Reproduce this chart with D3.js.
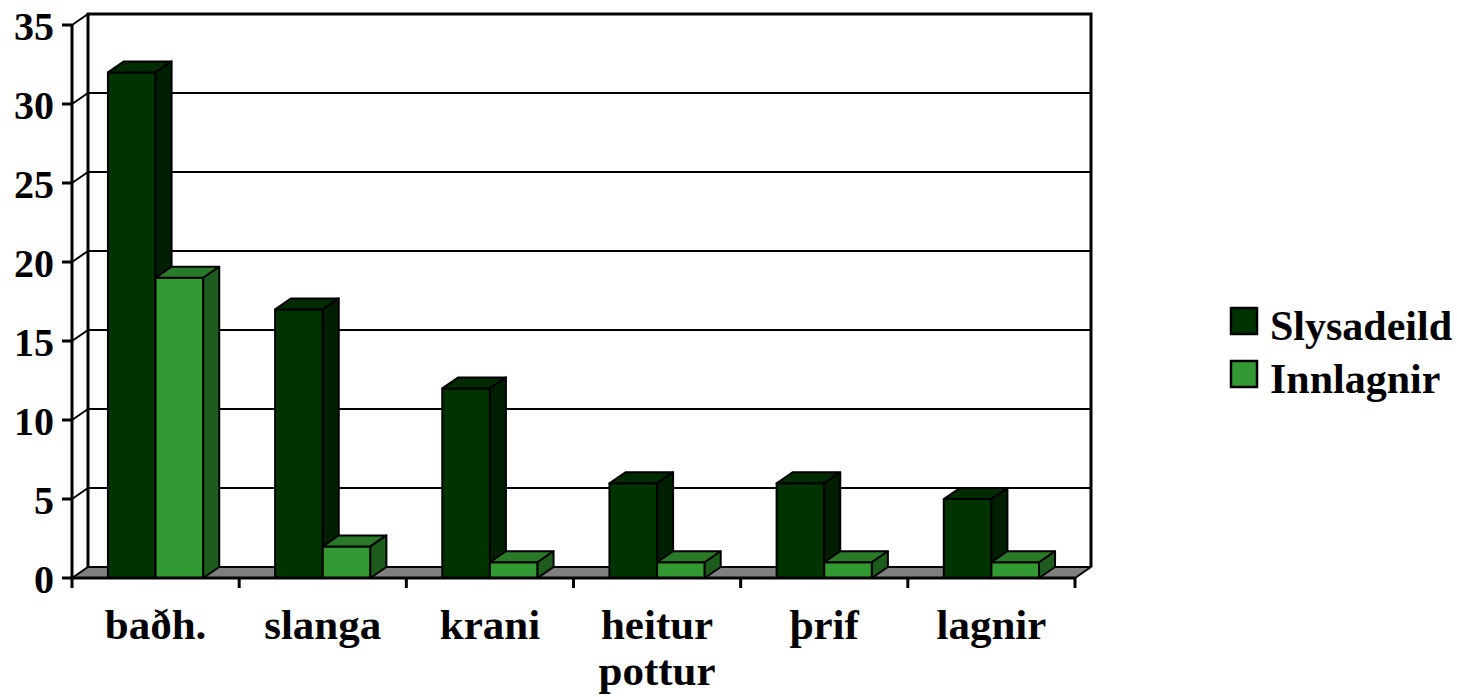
<!DOCTYPE html>
<html>
<head>
<meta charset="utf-8">
<script src="https://cdn.jsdelivr.net/npm/d3@7"></script>
<style>
  body { margin: 0; background: #fff; }
  text { font-family: "Liberation Serif", "Times New Roman", serif; font-weight: bold; fill: #000; }
</style>
</head>
<body>
<svg id="chart" width="1457" height="697"></svg>
<script>
const categories = ["baðh.", "slanga", "krani", "heitur pottur", "þrif", "lagnir"];
const seriesNames = ["Slysadeild", "Innlagnir"];
const slysadeild = [32, 17, 12, 6, 6, 5];
const innlagnir = [19, 2, 1, 1, 1, 1];
const yTicks = [0, 5, 10, 15, 20, 25, 30, 35];

const colors = {
  Slysadeild: { front: "#003300", top: "#002a00", side: "#001f00" },
  Innlagnir: { front: "#339933", top: "#2a7a2a", side: "#1e5c1e" }
};

const svg = d3.select("#chart");
const dx = 16, dy = -11; // 3d depth offset
const x0 = d3.scaleBand().domain(categories).range([72, 1075]);
const x1 = d3.scaleBand().domain(seriesNames)
  .range([x0.bandwidth() * 0.215, x0.bandwidth() * 0.785]);
const y = d3.scaleLinear().domain([0, 35]).range([578, 25]);

const left = x0.range()[0], right = x0.range()[1];

// back wall gridlines
svg.append("g").selectAll("line").data(yTicks.slice(1, -1)).join("line")
  .attr("x1", left + dx).attr("x2", right + dx)
  .attr("y1", d => y(d) + dy).attr("y2", d => y(d) + dy)
  .attr("stroke", "#000").attr("stroke-width", 2);

// left wall diagonals
svg.append("g").selectAll("line").data(yTicks.slice(1)).join("line")
  .attr("x1", left).attr("x2", left + dx)
  .attr("y1", d => y(d)).attr("y2", d => y(d) + dy)
  .attr("stroke", "#000").attr("stroke-width", 2);

// back wall frame
svg.append("path")
  .attr("d", `M${left + dx},${y(0) + dy} V${y(35) + dy} H${right + dx} V${y(0) + dy}`)
  .attr("fill", "none").attr("stroke", "#000").attr("stroke-width", 3);

// floor
svg.append("path")
  .attr("d", `M${left},${y(0)} L${left + dx},${y(0) + dy} L${right + dx},${y(0) + dy} L${right},${y(0)} Z`)
  .attr("fill", "#808080").attr("stroke", "#000").attr("stroke-width", 2).attr("stroke-linejoin", "round");

// bars
const rows = [];
categories.forEach((c, i) => {
  rows.push({ cat: c, s: "Slysadeild", v: slysadeild[i] });
  rows.push({ cat: c, s: "Innlagnir", v: innlagnir[i] });
});
const bars = svg.append("g").selectAll("g").data(rows).join("g")
  .attr("stroke", "#000").attr("stroke-width", 2).attr("stroke-linejoin", "round");
bars.each(function(d) {
  const g = d3.select(this);
  const xa = x0(d.cat) + x1(d.s), xb = xa + x1.bandwidth();
  const yt = y(d.v), yb = y(0);
  g.append("path").attr("fill", colors[d.s].front)
    .attr("d", `M${xa},${yb} V${yt} H${xb} V${yb} Z`);
  g.append("path").attr("fill", colors[d.s].top)
    .attr("d", `M${xa},${yt} L${xa + dx},${yt + dy} H${xb + dx} L${xb},${yt} Z`);
  g.append("path").attr("fill", colors[d.s].side)
    .attr("d", `M${xb},${yt} L${xb + dx},${yt + dy} V${yb + dy} L${xb},${yb} Z`);
});

// front axis lines
svg.append("line").attr("x1", left).attr("x2", left).attr("y1", y(35)).attr("y2", y(0))
  .attr("stroke", "#000").attr("stroke-width", 3);
svg.append("line").attr("x1", left).attr("x2", right).attr("y1", y(0)).attr("y2", y(0))
  .attr("stroke", "#000").attr("stroke-width", 3);

// y ticks + labels
const yg = svg.append("g");
yg.selectAll("line").data(yTicks).join("line")
  .attr("x1", left - 10).attr("x2", left).attr("y1", d => y(d)).attr("y2", d => y(d))
  .attr("stroke", "#000").attr("stroke-width", 3);
yg.selectAll("text").data(yTicks).join("text")
  .attr("x", left - 18).attr("y", d => y(d) + 15)
  .attr("text-anchor", "end").attr("font-size", 40)
  .text(d => d);

// category ticks
const catTicks = categories.map(c => x0(c)).concat([right]);
svg.append("g").selectAll("line").data(catTicks).join("line")
  .attr("x1", d => d).attr("x2", d => d).attr("y1", y(0)).attr("y2", y(0) + 10)
  .attr("stroke", "#000").attr("stroke-width", 3);

// category labels
svg.append("g").selectAll("text").data(categories).join("text")
  .attr("x", d => x0(d) + x0.bandwidth() / 2).attr("y", 639)
  .attr("text-anchor", "middle").attr("font-size", 43)
  .each(function(d) {
    const words = d.split(" ");
    d3.select(this).selectAll("tspan").data(words).join("tspan")
      .attr("x", x0(d) + x0.bandwidth() / 2)
      .attr("dy", (w, i) => i === 0 ? 0 : 46)
      .text(w => w);
  });

// legend
const lg = svg.append("g").selectAll("g").data(seriesNames).join("g")
  .attr("transform", (d, i) => `translate(1231,${308 + i * 53})`);
lg.append("rect").attr("width", 26).attr("height", 26)
  .attr("fill", d => colors[d].front).attr("stroke", "#000").attr("stroke-width", 2.5);
lg.append("text").attr("x", 39).attr("y", 32).attr("font-size", 42).text(d => d);
</script>
</body>
</html>
